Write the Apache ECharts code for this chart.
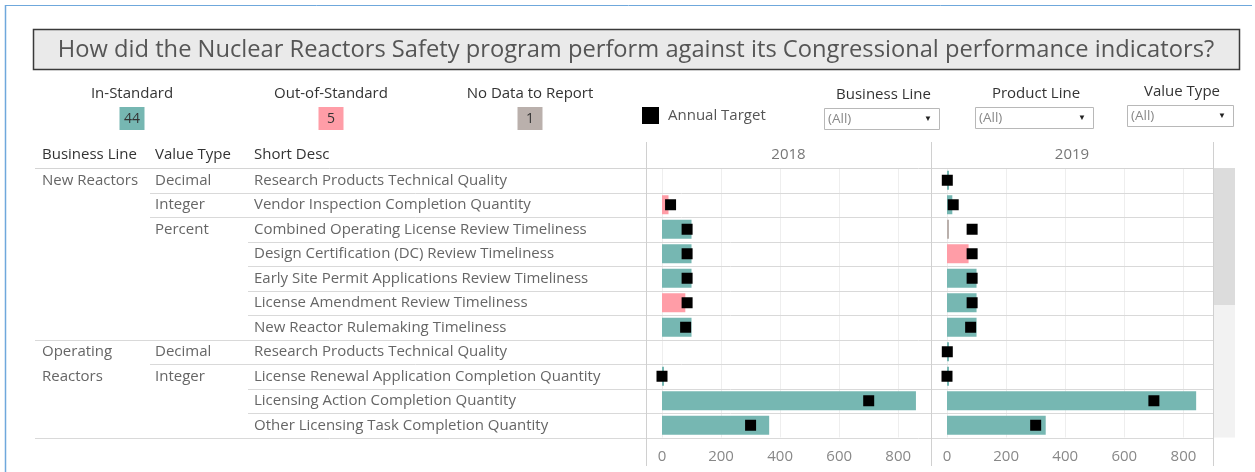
<!DOCTYPE html>
<html>
<head>
<meta charset="utf-8">
<script src="https://cdn.jsdelivr.net/npm/echarts@6/dist/echarts.min.js"></script>
<style>
  html, body { margin: 0; padding: 0; background: #fff; }
  #main { width: 1255px; height: 472px; }
</style>
</head>
<body>
<div id="main"></div>
<script>
/* data */
const categories = [
  'Research Products Technical Quality',
  'Vendor Inspection Completion Quantity',
  'Combined Operating License Review Timeliness',
  'Design Certification (DC) Review Timeliness',
  'Early Site Permit Applications Review Timeliness',
  'License Amendment Review Timeliness',
  'New Reactor Rulemaking Timeliness',
  'Research Products Technical Quality',
  'License Renewal Application Completion Quantity',
  'Licensing Action Completion Quantity',
  'Other Licensing Task Completion Quantity'
];
// [label, first row]
const businessLines = [['New Reactors', 0], ['Operating', 7], ['Reactors', 8]];
const valueTypes = [['Decimal', 0], ['Integer', 1], ['Percent', 2], ['Decimal', 7], ['Integer', 8]];

const years = ['2018', '2019'];
const value2018 = [null, 22, 100, 100, 100, 79, 100, null, 0, 860, 363];
const target2018 = [null, 29, 85, 85, 85, 85, 80, null, 0, 700, 300];
const status2018 = ['', 'out', 'in', 'in', 'in', 'out', 'in', '', 'in', 'in', 'in'];
const value2019 = [1, 18, 0, 73, 100, 100, 100, 1, 0, 843, 334];
const target2019 = [1, 21, 85, 85, 85, 85, 80, 1, 0, 700, 300];
const status2019 = ['in', 'in', 'none', 'out', 'in', 'in', 'in', 'in', 'in', 'in', 'in'];

const kpiLabels = ['In-Standard', 'Out-of-Standard', 'No Data to Report'];
const kpiCounts = [44, 5, 1];
const filters = ['Business Line', 'Product Line', 'Value Type'];

const colors = { in: '#76b7b2', out: '#ff9da7', none: '#bab0ac' };
const kpiColors = [colors.in, colors.out, colors.none];
const FONT = '"Open Sans", sans-serif';
const FS = 15;

/* layout */
const gridTop = 168, rowH = 24.5, n = categories.length;
const gridBottom = gridTop + rowH * n;
const rowY = i => gridTop + rowH * (i + 0.5);
const panels = [
  { left: 662, width: 269, max: 911, edge: 646 },
  { left: 947, width: 266, max: 900, edge: 931 }
];

const chart = echarts.init(document.getElementById('main'));

function txt(text, x, y, opt) {
  opt = opt || {};
  return {
    type: 'text', x: x, y: y, z: 10,
    style: {
      text: text,
      fill: opt.fill || '#666',
      fontSize: opt.size || FS,
      fontFamily: FONT,
      fontWeight: opt.weight || 'normal',
      textAlign: opt.align || 'left',
      textVerticalAlign: 'middle'
    }
  };
}
function line(x1, y1, x2, y2, color, w) {
  return { type: 'line', z: 1, shape: { x1, y1, x2, y2 }, style: { stroke: color, lineWidth: w || 1 } };
}
function rect(x, y, w, h, fill, stroke, lw) {
  return { type: 'rect', z: 1, shape: { x, y, width: w, height: h }, style: { fill: fill, stroke: stroke || null, lineWidth: lw || 1 } };
}

const graphic = [];
// outer frame
graphic.push(line(5.5, 5, 5.5, 472, '#6fa8dc', 1.5));
graphic.push(line(5, 5.5, 1252, 5.5, '#6fa8dc', 1));
// title
graphic.push(rect(33.5, 29.5, 1206, 40, '#eaeaea', '#3a3a3a', 1.5));
graphic.push(txt('How did the Nuclear Reactors Safety program perform against its Congressional performance indicators?', 636, 50, { fill: '#555', size: 23.7, align: 'center' }));
// KPI tiles
const kpiX = [132, 331, 530];
kpiLabels.forEach((l, i) => {
  graphic.push(txt(l, kpiX[i], 94, { fill: '#333', align: 'center' }));
  graphic.push(rect(kpiX[i] - 12.5, 107, 25, 23, kpiColors[i]));
  graphic.push(txt(String(kpiCounts[i]), kpiX[i], 119, { fill: '#333', align: 'center', size: 14 }));
});
// annual target legend
graphic.push(rect(642, 107, 17, 17, '#000'));
graphic.push(txt('Annual Target', 668, 116, { fill: '#555' }));
// filters
const fx = [[824, 115, 95], [975, 118, 94], [1127, 106, 92]];
filters.forEach((f, i) => {
  const [x, w, ly] = fx[i];
  graphic.push(txt(f, x + w / 2 + 2, ly, { fill: '#333', align: 'center' }));
  graphic.push(rect(x + 0.5, ly + 13.5, w, 21, '#fff', '#b8b8b8'));
  graphic.push(txt('(All)', x + 4, ly + 24.5, { fill: '#888', size: 13.5 }));
  graphic.push(txt('▼', x + w - 11, ly + 24, { fill: '#222', size: 8, align: 'center' }));
});
// table header
graphic.push(txt('Business Line', 42, 155, { fill: '#333' }));
graphic.push(txt('Value Type', 155, 155, { fill: '#333' }));
graphic.push(txt('Short Desc', 254, 155, { fill: '#333' }));
years.forEach((y, i) => {
  const p = panels[i];
  const right = i === 0 ? panels[1].edge : 1213;
  graphic.push(txt(y, (p.edge + right) / 2, 155, { fill: '#777', align: 'center' }));
});
businessLines.forEach(([l, r]) => graphic.push(txt(l, 42, rowY(r))));
valueTypes.forEach(([l, r]) => graphic.push(txt(l, 155, rowY(r))));
// horizontal row lines
graphic.push(line(35, gridTop + 0.5, 1213, gridTop + 0.5, '#d4d4d4', 1));
for (let i = 0; i < n; i++) {
  const y = Math.round(gridTop + rowH * (i + 1)) + 0.5;
  let x0 = 248;
  if (i === 6 || i === n - 1) x0 = 35;
  else if (i === 0 || i === 1 || i === 7) x0 = 150;
  graphic.push(line(x0, y, 1213, y, '#d9d9d9', 1));
}
// panel borders
[646.5, 931.5, 1213.5].forEach(x => graphic.push(line(x, 142, x, 466, '#d0d0d0', 1)));
// scrollbar
graphic.push(rect(1214, gridTop, 21, gridBottom - gridTop, '#f2f2f2'));
graphic.push(rect(1214, gridTop, 21, 137, '#dcdcdc'));

function barData(vals, stat) {
  return vals.map((v, i) => v === null ? null : { value: v, itemStyle: { color: colors[stat[i]] || colors.in } });
}

const values = [value2018, value2019];
const targets = [target2018, target2019];
const statuses = [status2018, status2019];

const option = {
  animation: false,
  textStyle: { fontFamily: FONT },
  graphic: graphic,
  grid: panels.map(p => ({ left: p.left, width: p.width, top: gridTop, height: gridBottom - gridTop })),
  xAxis: panels.map((p, i) => ({
    type: 'value', gridIndex: i, min: 0, max: p.max, interval: 200,
    axisLine: { show: false }, axisTick: { show: false },
    axisLabel: { color: '#888', fontSize: FS, margin: 12, showMaxLabel: false, fontFamily: FONT },
    splitLine: { show: true, lineStyle: { color: '#eeeeee', width: 1 } }
  })),
  yAxis: panels.map((p, i) => ({
    type: 'category', gridIndex: i, inverse: true, data: categories,
    axisLine: { show: false }, axisTick: { show: false }, splitLine: { show: false },
    axisLabel: i === 0
      ? { show: true, align: 'left', margin: p.left - 254, color: '#666', fontSize: FS, fontFamily: FONT }
      : { show: false }
  })),
  series: [].concat(...years.map((y, i) => [
    {
      type: 'bar', name: y, xAxisIndex: i, yAxisIndex: i,
      barWidth: 19, barMinHeight: 2, z: 2,
      data: barData(values[i], statuses[i])
    },
    {
      type: 'scatter', name: 'Annual Target ' + y, xAxisIndex: i, yAxisIndex: i,
      symbol: 'rect', symbolSize: 11, z: 3,
      itemStyle: { color: '#000', opacity: 1 },
      data: targets[i]
    }
  ]))
};

chart.setOption(option);
</script>
</body>
</html>
